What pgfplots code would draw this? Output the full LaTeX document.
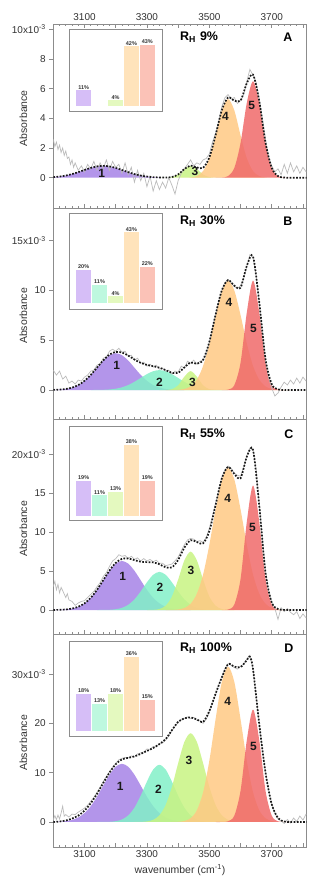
\documentclass[border=0pt]{standalone}
\usepackage{pgfplots}
\pgfplotsset{compat=1.18}
\usepackage{fontspec}
\setmainfont{Liberation Sans}
\definecolor{axgray}{HTML}{8C8C8C}
\definecolor{tickc}{HTML}{333333}
\definecolor{gdat}{HTML}{BBBBBB}
\definecolor{pa}{HTML}{A683E6}
\definecolor{pb}{HTML}{82F0C8}
\definecolor{pc}{HTML}{C8F383}
\definecolor{pd}{HTML}{FFC984}
\definecolor{pe}{HTML}{F06A6A}
\definecolor{ba}{HTML}{D6BEF7}
\definecolor{bb}{HTML}{BEF8DF}
\definecolor{bc}{HTML}{E4F9BF}
\definecolor{bd}{HTML}{FFE3BB}
\definecolor{be}{HTML}{FBC2B7}
\tikzset{
  plab/.style={font=\bfseries\fontsize{12}{12}\selectfont, text=black!90},
  rlab/.style={anchor=west, font=\bfseries\fontsize{12.5}{13}\selectfont},
  llab/.style={font=\bfseries\fontsize{12.5}{13}\selectfont},
}
\pgfplotsset{
  mainax/.style={scale only axis, width=253.4bp, anchor=north west,
    xmin=3000, xmax=3812,
    axis line style={draw=axgray, line width=0.8bp},
    xtick={3000,3100,...,3800},
    minor xtick={3000,3020,...,3800},
    xtick align=inside, ytick align=outside, ytick pos=left,
    major tick length=4bp, minor tick length=2bp,
    tick style={draw=axgray, line width=0.6bp},
    tick label style={font=\fontsize{10}{12}\selectfont, text=tickc},
    ylabel={Absorbance},
    ylabel style={at={(axis description cs:-0.118,0.49)}, anchor=center, font=\fontsize{10.5}{12}\selectfont, text=tickc},
  },
  pk/.style={draw=none, fill=#1, fill opacity=0.85, smooth},
  gd/.style={draw=gdat, line width=0.7bp},
  fit/.style={draw=black!90, line width=1.7bp, dash pattern=on 1.7bp off 1.5bp, smooth},
  inset/.style={scale only axis, anchor=north west, width=93bp, xmin=0.08, xmax=5.92,
    axis line style={draw=axgray, line width=0.8bp}, xtick=\empty, ytick=\empty,
    ybar, bar width=0.95,
    /pgf/number format/assume math mode=true,
    nodes near coords={\pgfmathprintnumber{\pgfplotspointmeta}\%},
    nodes near coords style={font=\bfseries\fontsize{5.5}{6}\selectfont, text=black!80, inner sep=0.8bp},
  },
  br/.style={fill=#1, draw=none, bar shift=0pt},
}
\begin{document}
\begin{tikzpicture}
\path[use as bounding box] (0,0) rectangle (326bp,892bp);
%%%%%%%%%%%%%%%% Panel A
\begin{axis}[mainax, at={(53.3bp,867.7bp)}, height=184bp, ymin=-2.06, ymax=10.34,
  xtick pos=both, xticklabel pos=right, xticklabels={,3100,,3300,,3500,,3700,},
  ytick={0,2,4,6,8,10}, yticklabels={0,2,4,6,8,10x10\textsuperscript{-3}}]
\addplot[pk=pa] coordinates {(3000,0.039)(3020,0.079)(3040,0.146)(3060,0.245)(3080,0.375)(3100,0.522)(3120,0.662)(3140,0.763)(3160,0.80)(3180,0.763)(3200,0.662)(3220,0.522)(3240,0.375)(3260,0.245)(3280,0.146)(3300,0.079)(3320,0.039)(3340,0.017)(3360,0.007)(3380,0)} \closedcycle;
\addplot[pk=pc] coordinates {(3340,0)(3360,0.005)(3380,0.045)(3400,0.222)(3420,0.581)(3440,0.80)(3460,0.581)(3480,0.222)(3500,0.045)(3520,0.005)(3540,0)} \closedcycle;
\addplot[pk=pd] coordinates {(3400,0)(3420,0.003)(3440,0.020)(3460,0.112)(3480,0.449)(3500,1.32)(3520,2.86)(3540,4.54)(3560,5.30)(3580,4.54)(3600,2.86)(3620,1.32)(3640,0.449)(3660,0.112)(3680,0.020)(3700,0.003)(3720,0)} \closedcycle;
\addplot[pk=pe] coordinates {(3520,0)(3540,0.011)(3560,0.110)(3580,0.655)(3600,2.34)(3620,5.04)(3640,6.5)(3660,5.04)(3680,2.34)(3700,0.655)(3720,0.110)(3740,0.011)(3760,0)} \closedcycle;
\addplot[gd] coordinates {(3000,2.6)(3005,2.1)(3010,2.4)(3015,1.9)(3020,2.2)(3025,1.7)(3030,2.0)(3035,1.5)(3040,1.8)(3045,1.3)(3050,1.4)(3055,0.9)(3060,1.2)(3065,0.7)(3070,1.0)(3080,0.5)(3090,0.8)(3100,0.4)(3110,0.9)(3120,0.6)(3130,1.1)(3140,0.5)(3150,1.0)(3160,0.6)(3170,1.2)(3180,0.5)(3190,1.1)(3200,0.7)(3210,0.9)(3220,0.3)(3230,1.0)(3240,0.2)(3250,0.7)(3260,-0.3)(3270,0.5)(3280,-0.2)(3290,0.3)(3300,-0.6)(3310,0.1)(3320,-0.9)(3330,-0.2)(3340,-0.8)(3350,-0.3)(3360,-0.7)(3370,0.0)(3380,-0.5)(3390,-1.1)(3400,-0.2)(3410,0.3)(3420,0.6)(3430,0.9)(3440,1.2)(3450,0.8)(3460,1.0)(3470,0.9)(3480,1.2)(3490,1.3)(3500,1.6)(3510,2.4)(3520,3.0)(3530,3.8)(3540,4.8)(3550,5.4)(3560,5.6)(3570,5.3)(3580,5.4)(3590,5.0)(3600,5.2)(3610,5.6)(3620,6.5)(3630,7.3)(3640,6.9)(3650,6.4)(3660,5.3)(3670,4.0)(3680,2.6)(3690,1.4)(3700,0.8)(3710,0.4)(3720,0.6)(3730,0.2)(3740,0.9)(3750,0.3)(3760,1.0)(3770,0.4)(3780,0.8)(3790,0.3)(3800,0.7)(3810,0.4)};
\addplot[fit] coordinates {(3000,0.039)(3020,0.079)(3040,0.146)(3060,0.245)(3080,0.375)(3100,0.522)(3120,0.662)(3140,0.763)(3160,0.80)(3180,0.763)(3200,0.662)(3220,0.522)(3240,0.375)(3260,0.245)(3280,0.146)(3300,0.079)(3320,0.039)(3340,0.017)(3360,0.012)(3380,0.047)(3400,0.222)(3420,0.584)(3440,0.82)(3460,0.693)(3480,0.671)(3500,1.365)(3520,2.865)(3540,4.551)(3560,5.41)(3580,5.195)(3600,5.20)(3620,6.36)(3640,6.95)(3660,5.152)(3680,2.36)(3700,0.658)(3720,0.110)(3740,0.011)(3760,0)(3780,0)(3800,0)(3812,0)};
\node[plab] at (axis cs:3155,0.3) {1};
\node[plab] at (axis cs:3454,0.4) {3};
\node[plab] at (axis cs:3552,4.1) {4};
\node[plab] at (axis cs:3636,4.9) {5};
\node[rlab] at (rel axis cs:0.487,0.931) {R\textsubscript{H}\hspace{4bp}9\%};
\node[llab] at (rel axis cs:0.926,0.931) {A};
\end{axis}
\begin{axis}[inset, at={(69bp,862.7bp)}, height=81.7bp, ymin=-3.5, ymax=54]
\addplot[br=ba] coordinates {(1,11)};
\addplot[br=bc] coordinates {(3,4)};
\addplot[br=bd] coordinates {(4,42)};
\addplot[br=be] coordinates {(5,43)};
\end{axis}
%%%%%%%%%%%%%%%% Panel B
\begin{axis}[mainax, at={(53.3bp,683.7bp)}, height=211bp, ymin=-2.94, ymax=18.26,
  xtick pos=left, xticklabels={,,,,,,,,},
  ytick={0,5,10,15}, yticklabels={0,5,10,15x10\textsuperscript{-3}}]
\addplot[pk=pa] coordinates {(3000,0.014)(3020,0.041)(3040,0.106)(3060,0.243)(3080,0.501)(3100,0.923)(3120,1.521)(3140,2.244)(3160,2.963)(3180,3.50)(3200,3.70)(3220,3.50)(3240,2.963)(3260,2.244)(3280,1.521)(3300,0.923)(3320,0.501)(3340,0.243)(3360,0.106)(3380,0.041)(3400,0.014)(3420,0)} \closedcycle;
\addplot[pk=pb] coordinates {(3120,0)(3140,0.008)(3160,0.022)(3180,0.057)(3200,0.131)(3220,0.271)(3240,0.499)(3260,0.822)(3280,1.213)(3300,1.601)(3320,1.892)(3340,2.0)(3360,1.892)(3380,1.601)(3400,1.213)(3420,0.822)(3440,0.499)(3460,0.271)(3480,0.131)(3500,0.057)(3520,0.022)(3540,0.008)(3560,0)} \closedcycle;
\addplot[pk=pc] coordinates {(3340,0)(3360,0.007)(3380,0.083)(3400,0.474)(3420,1.343)(3440,1.9)(3460,1.343)(3480,0.474)(3500,0.083)(3520,0.007)(3540,0)} \closedcycle;
\addplot[pk=pd] coordinates {(3360,0)(3380,0.005)(3400,0.026)(3420,0.107)(3440,0.366)(3460,1.035)(3480,2.424)(3500,4.698)(3520,7.537)(3540,10.008)(3560,11.0)(3580,10.008)(3600,7.537)(3620,4.698)(3640,2.424)(3660,1.035)(3680,0.366)(3700,0.107)(3720,0.026)(3740,0.005)(3760,0)} \closedcycle;
\addplot[pk=pe] coordinates {(3540,0)(3560,0.042)(3580,0.483)(3600,2.743)(3620,7.773)(3640,11.0)(3660,7.773)(3680,2.743)(3700,0.483)(3720,0.042)(3740,0)} \closedcycle;
\addplot[gd] coordinates {(3000,2.0)(3010,1.5)(3020,1.9)(3030,1.1)(3040,1.4)(3050,0.7)(3060,0.9)(3070,0.6)(3080,1.0)(3090,0.9)(3100,1.3)(3110,1.5)(3120,1.9)(3130,2.0)(3140,2.5)(3150,2.6)(3160,3.2)(3170,3.3)(3180,3.9)(3190,4.1)(3200,3.9)(3210,4.2)(3220,3.8)(3230,3.9)(3240,3.4)(3250,3.5)(3260,3.0)(3270,3.2)(3280,2.7)(3290,2.8)(3300,2.4)(3310,2.6)(3320,2.3)(3330,2.5)(3340,2.1)(3350,2.2)(3360,1.9)(3370,2.0)(3380,1.6)(3390,1.9)(3400,1.8)(3410,2.4)(3420,2.2)(3430,2.9)(3440,2.7)(3450,3.0)(3460,2.6)(3470,2.9)(3480,3.0)(3490,3.6)(3500,4.8)(3510,6.2)(3520,7.6)(3530,8.9)(3540,10.0)(3550,10.8)(3560,11.1)(3570,10.8)(3580,10.4)(3590,10.2)(3600,10.5)(3610,11.2)(3620,12.4)(3630,13.6)(3640,13.3)(3650,11.5)(3660,8.7)(3670,5.8)(3680,3.0)(3690,1.2)(3700,0.2)(3710,-0.6)(3720,-0.3)(3730,0.3)(3740,0.8)(3750,0.5)(3760,1.0)(3770,0.6)(3780,1.2)(3790,0.7)(3800,1.3)(3810,0.9)};
\addplot[fit] coordinates {(3000,0.014)(3020,0.041)(3040,0.106)(3060,0.243)(3080,0.501)(3100,0.923)(3120,1.521)(3140,2.252)(3160,2.985)(3180,3.557)(3200,3.831)(3220,3.771)(3240,3.462)(3260,3.066)(3280,2.734)(3300,2.524)(3320,2.393)(3340,2.243)(3360,2.005)(3380,1.730)(3400,1.727)(3420,2.272)(3440,2.765)(3460,2.649)(3480,3.029)(3500,4.838)(3520,7.566)(3540,10.016)(3560,11.042)(3580,10.491)(3600,10.28)(3620,12.471)(3640,13.424)(3660,8.808)(3680,3.109)(3700,0.590)(3720,0.068)(3740,0.005)(3760,0)(3780,0)(3800,0)(3812,0)};
\node[plab] at (axis cs:3203,2.5) {1};
\node[plab] at (axis cs:3340,0.8) {2};
\node[plab] at (axis cs:3446,0.8) {3};
\node[plab] at (axis cs:3563,8.8) {4};
\node[plab] at (axis cs:3641,6.2) {5};
\node[rlab] at (rel axis cs:0.487,0.937) {R\textsubscript{H}\hspace{4bp}30\%};
\node[llab] at (rel axis cs:0.926,0.937) {B};
\end{axis}
\begin{axis}[inset, at={(69bp,678.7bp)}, height=96bp, ymin=-4, ymax=54.5]
\addplot[br=ba] coordinates {(1,20)};
\addplot[br=bb] coordinates {(2,11)};
\addplot[br=bc] coordinates {(3,4)};
\addplot[br=bd] coordinates {(4,43)};
\addplot[br=be] coordinates {(5,22)};
\end{axis}
%%%%%%%%%%%%%%%% Panel C
\begin{axis}[mainax, at={(53.3bp,472.7bp)}, height=215bp, ymin=-3.12, ymax=24.5,
  xtick pos=left, xticklabels={,,,,,,,,},
  ytick={0,5,10,15,20}, yticklabels={0,5,10,15,20x10\textsuperscript{-3}}]
\addplot[pk=pa] coordinates {(3000,0.008)(3020,0.024)(3040,0.070)(3060,0.180)(3080,0.414)(3100,0.852)(3120,1.571)(3140,2.590)(3160,3.821)(3180,5.044)(3200,5.960)(3220,6.3)(3240,5.960)(3260,5.044)(3280,3.821)(3300,2.590)(3320,1.571)(3340,0.852)(3360,0.414)(3380,0.180)(3400,0.070)(3420,0.024)(3440,0)} \closedcycle;
\addplot[pk=pb] coordinates {(3140,0)(3160,0.007)(3180,0.029)(3200,0.097)(3220,0.275)(3240,0.663)(3260,1.362)(3280,2.385)(3300,3.558)(3320,4.523)(3340,4.9)(3360,4.523)(3380,3.558)(3400,2.385)(3420,1.362)(3440,0.663)(3460,0.275)(3480,0.097)(3500,0.029)(3520,0.007)(3540,0)} \closedcycle;
\addplot[pk=pc] coordinates {(3300,0)(3320,0.021)(3340,0.127)(3360,0.551)(3380,1.726)(3400,3.903)(3420,6.370)(3440,7.5)(3460,6.370)(3480,3.903)(3500,1.726)(3520,0.551)(3540,0.127)(3560,0.021)(3580,0)} \closedcycle;
\addplot[pk=pd] coordinates {(3360,0)(3380,0.016)(3400,0.071)(3420,0.260)(3440,0.803)(3460,2.090)(3480,4.564)(3500,8.378)(3520,12.93)(3540,16.78)(3560,18.3)(3580,16.78)(3600,12.93)(3620,8.378)(3640,4.564)(3660,2.090)(3680,0.803)(3700,0.260)(3720,0.071)(3740,0.016)(3760,0)} \closedcycle;
\addplot[pk=pe] coordinates {(3540,0)(3560,0.062)(3580,0.702)(3600,3.990)(3620,11.306)(3640,16.0)(3660,11.306)(3680,3.990)(3700,0.702)(3720,0.062)(3740,0)} \closedcycle;
\addplot[gd] coordinates {(3000,3.0)(3005,3.7)(3010,2.6)(3015,3.3)(3020,2.2)(3025,2.9)(3030,2.5)(3040,1.6)(3045,2.1)(3050,1.3)(3060,1.1)(3070,0.6)(3080,0.9)(3090,1.1)(3100,1.2)(3110,1.6)(3120,2.0)(3130,2.4)(3140,3.0)(3150,3.5)(3160,4.3)(3170,4.8)(3180,5.6)(3190,6.3)(3200,6.6)(3210,7.1)(3220,6.9)(3230,7.0)(3240,6.6)(3250,6.9)(3260,6.5)(3270,6.7)(3280,6.3)(3290,6.6)(3300,6.3)(3310,6.5)(3320,6.2)(3330,6.4)(3340,6.0)(3350,6.0)(3360,5.7)(3370,5.8)(3380,5.9)(3390,6.3)(3400,6.8)(3410,7.6)(3420,8.4)(3430,9.0)(3440,9.2)(3450,9.1)(3460,8.8)(3470,8.9)(3480,8.7)(3490,9.3)(3500,10.5)(3510,12.0)(3520,13.7)(3530,15.3)(3540,17.0)(3550,18.0)(3560,18.5)(3570,18.2)(3580,17.6)(3590,17.3)(3600,17.2)(3610,18.3)(3620,19.8)(3630,20.8)(3640,20.6)(3650,18.0)(3660,13.6)(3670,9.0)(3680,5.0)(3690,2.4)(3700,1.0)(3710,0.2)(3720,-1.2)(3730,0.3)(3740,-0.2)(3750,0.2)(3760,-0.3)(3770,-0.6)(3780,-0.2)(3790,-1.1)(3800,-0.5)(3810,-1.0)};
\addplot[fit] coordinates {(3000,0.008)(3020,0.024)(3040,0.070)(3060,0.180)(3080,0.414)(3100,0.852)(3120,1.571)(3140,2.590)(3160,3.828)(3180,5.073)(3200,6.057)(3220,6.575)(3240,6.623)(3260,6.406)(3280,6.206)(3300,6.148)(3320,6.115)(3340,5.879)(3360,5.488)(3380,5.48)(3400,6.429)(3420,8.016)(3440,8.966)(3460,8.735)(3480,8.564)(3500,10.133)(3520,13.488)(3540,16.907)(3560,18.383)(3580,17.482)(3600,16.92)(3620,19.684)(3640,20.564)(3660,13.396)(3680,4.793)(3700,0.962)(3720,0.133)(3740,0.016)(3760,0)(3780,0)(3800,0)(3812,0)};
\node[plab] at (axis cs:3222,4.3) {1};
\node[plab] at (axis cs:3342,2.9) {2};
\node[plab] at (axis cs:3441,5.1) {3};
\node[plab] at (axis cs:3559,14.4) {4};
\node[plab] at (axis cs:3638,10.6) {5};
\node[rlab] at (rel axis cs:0.487,0.930) {R\textsubscript{H}\hspace{4bp}55\%};
\node[llab] at (rel axis cs:0.930,0.930) {C};
\end{axis}
\begin{axis}[inset, at={(69bp,465.3bp)}, height=94bp, ymin=-2.5, ymax=47.8]
\addplot[br=ba] coordinates {(1,19)};
\addplot[br=bb] coordinates {(2,11)};
\addplot[br=bc] coordinates {(3,13)};
\addplot[br=bd] coordinates {(4,38)};
\addplot[br=be] coordinates {(5,19)};
\end{axis}
%%%%%%%%%%%%%%%% Panel D
\begin{axis}[mainax, at={(53.3bp,257.7bp)}, height=213bp, ymin=-5.13, ymax=38.05,
  xtick pos=left, xticklabels={,3100,,3300,,3500,,3700,},
  ytick={0,10,20,30}, yticklabels={0,10,20,30x10\textsuperscript{-3}},
  xlabel={wavenumber (cm\textsuperscript{-1})},
  xlabel style={font=\fontsize{10.5}{12}\selectfont, text=tickc}]
\addplot[pk=pa] coordinates {(3000,0.021)(3020,0.065)(3040,0.175)(3060,0.422)(3080,0.923)(3100,1.814)(3120,3.213)(3140,5.133)(3160,7.388)(3180,9.583)(3200,11.20)(3220,11.8)(3240,11.20)(3260,9.583)(3280,7.388)(3300,5.133)(3320,3.213)(3340,1.814)(3360,0.923)(3380,0.422)(3400,0.175)(3420,0.065)(3440,0.021)(3460,0)} \closedcycle;
\addplot[pk=pb] coordinates {(3140,0)(3160,0.010)(3180,0.045)(3200,0.165)(3220,0.509)(3240,1.325)(3260,2.893)(3280,5.310)(3300,8.197)(3320,10.636)(3340,11.6)(3360,10.636)(3380,8.197)(3400,5.310)(3420,2.893)(3440,1.325)(3460,0.509)(3480,0.165)(3500,0.045)(3520,0.010)(3540,0)} \closedcycle;
\addplot[pk=pc] coordinates {(3260,0)(3280,0.024)(3300,0.114)(3320,0.437)(3340,1.361)(3360,3.447)(3380,7.103)(3400,11.907)(3420,16.234)(3440,18.0)(3460,16.234)(3480,11.907)(3500,7.103)(3520,3.447)(3540,1.361)(3560,0.437)(3580,0.114)(3600,0.024)(3620,0)} \closedcycle;
\addplot[pk=pd] coordinates {(3380,0)(3400,0.043)(3420,0.200)(3440,0.765)(3460,2.381)(3480,6.032)(3500,12.430)(3520,20.837)(3540,28.41)(3560,31.5)(3580,28.41)(3600,20.837)(3620,12.430)(3640,6.032)(3660,2.381)(3680,0.765)(3700,0.200)(3720,0.043)(3740,0)} \closedcycle;
\addplot[pk=pe] coordinates {(3520,0)(3540,0.008)(3560,0.137)(3580,1.279)(3600,6.338)(3620,16.555)(3640,22.8)(3660,16.555)(3680,6.338)(3700,1.279)(3720,0.137)(3740,0.008)(3760,0)} \closedcycle;
\addplot[gd] coordinates {(3000,0.4)(3005,1.3)(3010,0.5)(3015,1.4)(3020,0.6)(3025,1.8)(3030,3.2)(3035,1.2)(3040,1.5)(3050,1.0)(3060,1.6)(3070,1.5)(3080,2.0)(3090,2.4)(3100,2.8)(3110,3.4)(3120,4.2)(3130,5.0)(3140,6.0)(3150,7.0)(3160,8.2)(3170,9.2)(3180,10.2)(3190,11.1)(3200,11.9)(3210,12.6)(3220,12.9)(3230,13.1)(3240,13.0)(3250,13.4)(3260,13.2)(3270,13.8)(3280,14.0)(3290,14.2)(3300,14.8)(3310,14.7)(3320,15.3)(3330,15.2)(3340,15.9)(3350,16.0)(3360,16.6)(3370,17.4)(3380,18.5)(3390,19.4)(3400,20.2)(3410,20.8)(3420,21.0)(3430,21.3)(3440,21.0)(3450,21.2)(3460,20.6)(3470,20.5)(3480,20.0)(3490,20.8)(3500,22.2)(3510,24.0)(3520,25.8)(3530,27.8)(3540,29.5)(3550,31.0)(3560,32.1)(3570,31.8)(3580,31.3)(3590,31.0)(3600,31.6)(3610,32.0)(3620,33.0)(3630,33.8)(3640,31.0)(3650,25.5)(3660,19.8)(3670,14.5)(3680,10.2)(3690,6.5)(3700,3.5)(3710,1.8)(3720,0.6)(3730,0.2)(3740,-0.3)(3750,0.5)(3760,-0.2)(3770,0.8)(3780,0.1)(3790,1.2)(3800,0.4)(3810,1.6)};
\addplot[fit] coordinates {(3000,0)(3020,0.1)(3040,0.3)(3060,0.7)(3080,1.3)(3100,2.3)(3120,3.8)(3140,5.7)(3160,7.9)(3180,10.0)(3200,11.7)(3220,12.7)(3240,13.0)(3260,13.3)(3280,13.8)(3300,14.4)(3320,15.0)(3340,15.8)(3360,16.8)(3380,18.6)(3400,20.3)(3420,21.0)(3440,21.2)(3460,20.8)(3480,20.3)(3500,22.5)(3520,26.0)(3540,29.3)(3560,32.0)(3580,31.5)(3600,31.4)(3620,32.8)(3630,33.5)(3640,31.0)(3660,19.8)(3680,10.0)(3700,3.6)(3720,0.8)(3740,0.1)(3760,0)(3780,0)(3800,0)(3812,0)};
\node[plab] at (axis cs:3214,7.2) {1};
\node[plab] at (axis cs:3337,6.6) {2};
\node[plab] at (axis cs:3435,12.4) {3};
\node[plab] at (axis cs:3559,24.4) {4};
\node[plab] at (axis cs:3641,15.4) {5};
\node[rlab] at (rel axis cs:0.487,0.934) {R\textsubscript{H}\hspace{4bp}100\%};
\node[llab] at (rel axis cs:0.930,0.934) {D};
\end{axis}
\begin{axis}[inset, at={(69bp,250.3bp)}, height=95bp, ymin=-2.9, ymax=43.2]
\addplot[br=ba] coordinates {(1,18)};
\addplot[br=bb] coordinates {(2,13)};
\addplot[br=bc] coordinates {(3,18)};
\addplot[br=bd] coordinates {(4,36)};
\addplot[br=be] coordinates {(5,15)};
\end{axis}
\end{tikzpicture}
\end{document}
